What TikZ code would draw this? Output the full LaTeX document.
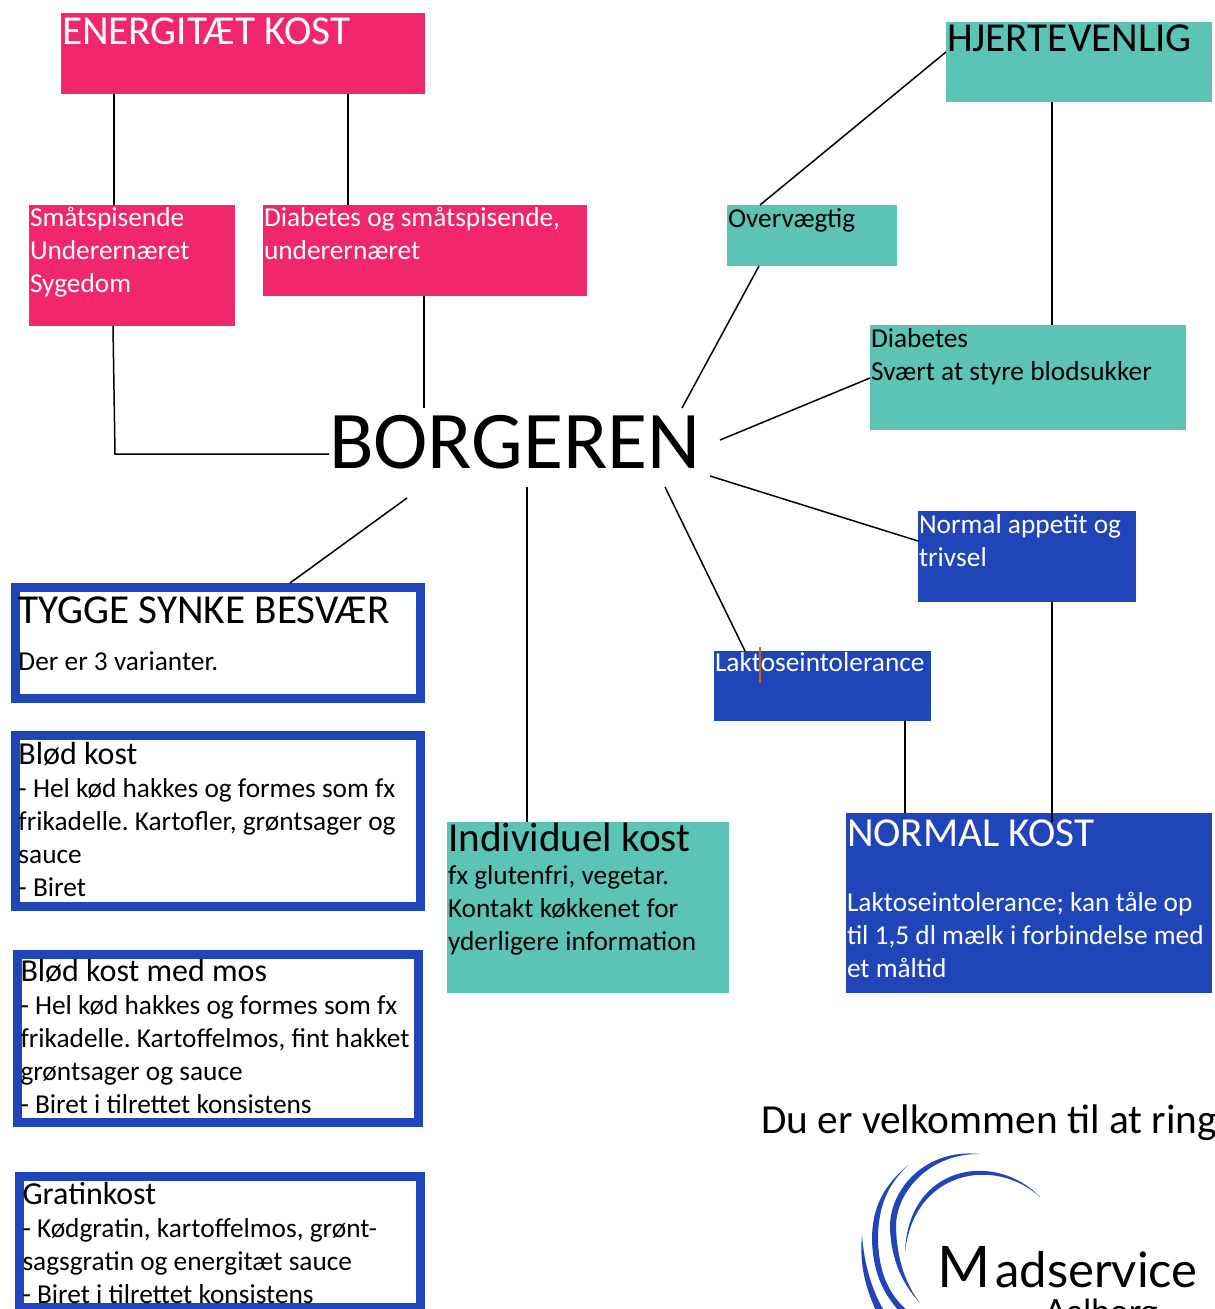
\documentclass[tikz,border=0pt]{standalone}
\usepackage{fontspec}
\setmainfont{Carlito}
\newfontfamily\logofont{Lato}
\usepackage{tikz}
\frenchspacing
\definecolor{pinkfill}{HTML}{F2276B}
\definecolor{tealfill}{HTML}{5BC4B4}
\definecolor{bluefill}{HTML}{1F45B8}
\newcommand{\px}{0.75pt}
\newcommand{\bodyfont}{\fontsize{20.5}{24.75}\selectfont}
\newcommand{\bigfont}{\fontsize{30.9}{24.75}\selectfont}
\newcommand{\midfont}{\fontsize{24}{24.75}\selectfont}
\tikzset{
  fillbox/.style n args={3}{anchor=north west, outer sep=0pt, inner xsep=1*\px, inner ysep=0pt, align=flush left,
    font=\bodyfont, text width=(#1-2)*\px, text height=#3*\px, text depth=(#2-#3)*\px},
  framebox/.style n args={3}{anchor=north west, draw=bluefill, fill=white, line width=9*\px, inner xsep=3*\px, inner ysep=0pt, align=flush left,
    font=\bodyfont, text width=(#1-15)*\px, text height=(#3-4.5)*\px, text depth=(#2-#3-4.5)*\px},
  pinkbox/.style={fill=pinkfill, text=white},
  tealbox/.style={fill=tealfill, text=black},
  bluebox/.style={fill=bluefill, text=white},
  link/.style={draw=black, line width=1.5*\px},
  logoarc/.style={fill=bluefill}
}
\begin{document}
\begin{tikzpicture}[x=0.75pt,y=-0.75pt]
\useasboundingbox (0,0) rectangle (1214,1309);
% boxes
\node[pinkbox, fillbox={364}{81}{32}] (energi) at (61,13) {\bigfont ENERGITÆT KOST};
\node[pinkbox, fillbox={206}{121}{21}] (smaa) at (29,205) {Småtspisende\\Underernæret\\Sygedom};
\node[pinkbox, fillbox={324}{91}{21}] (diabsmaa) at (263,205) {Diabetes og småtspisende,\\underernæret};
\node[tealbox, fillbox={266}{80}{30}] (hjerte) at (946,22) {\bigfont HJERTEVENLIG};
\node[tealbox, fillbox={170}{61}{22}] (overv) at (727,205) {Overvægtig};
\node[tealbox, fillbox={316}{105}{22}] (diab) at (870,325) {Diabetes\\Svært at styre blodsukker};
\node[bluebox, fillbox={218}{91}{22}] (appetit) at (918,511) {Normal appetit og\\trivsel};
\node[bluebox, fillbox={217}{70}{20}] (laktose) at (714,651) {Laktoseintolerance};
\node[bluebox, fillbox={366}{180}{33}] (normal) at (846,813) {\bigfont NORMAL KOST\\[24pt]\bodyfont Laktoseintolerance; kan tåle op\\til 1,5 dl mælk i forbindelse med\\et måltid};
\node[tealbox, fillbox={282}{171}{29}] (indiv) at (447,822) {\bigfont Individuel kost\\\bodyfont fx glutenfri, vegetar.\\Kontakt køkkenet for\\yderligere information};
\node[framebox={414}{120}{40}] (tygge) at (11,583) {\bigfont TYGGE SYNKE BESVÆR\\[11pt]\bodyfont Der er 3 varianter.};
\node[framebox={414}{180}{33}] (bloed) at (11,731) {\midfont Blød kost\\\bodyfont - Hel kød hakkes og formes som fx\\frikadelle. Kartofler, grøntsager og\\sauce\\- Biret};
\node[framebox={410}{177}{31}] (mos) at (13,950) {\midfont Blød kost med mos\\\bodyfont - Hel kød hakkes og formes som fx\\frikadelle. Kartoffelmos, fint hakket\\grøntsager og sauce\\- Biret i tilrettet konsistens};
\node[framebox={410}{140}{32}] (gratin) at (15,1172) {\midfont Gratinkost\\\bodyfont - Kødgratin, kartoffelmos, grønt-\\sagsgratin og energitæt sauce\\- Biret i tilrettet konsistens};
\node[anchor=north west, inner sep=0pt, outer sep=0pt, text height=60*\px, text depth=19*\px, font=\fontsize{61.5}{61.5}\selectfont] (borger) at (329,408) {BORGEREN};
\node[anchor=base west, inner sep=0pt, font=\fontsize{31}{32}\selectfont] (ring) at (761,1133) {Du er velkommen til at ring};
\node[anchor=base west, inner sep=0pt, font=\logofont\fontsize{43}{43}\selectfont] (logom) at (937,1287) {M};
\node[anchor=base west, inner sep=0pt, font=\logofont\fontsize{36.7}{36.7}\selectfont] (logotxt) at (995,1287) {adservice};
\node[anchor=base west, inner sep=0pt, font=\logofont\fontsize{25}{25}\selectfont] (logoby) at (1044,1323) {Aalborg};
% lines
\coordinate (borgerl) at (407,498);
\coordinate (borgerr) at (710,476);
\coordinate (borgerd) at (720,440);
\draw[link] (energi.south -| 114,0) -- (smaa.north -| 114,0);
\draw[link] (energi.south -| 348,0) -- (diabsmaa.north -| 348,0);
\draw[link] (diabsmaa.south -| 424,0) -- (borger.north -| 424,0);
\draw[link] (smaa.south -| 113,0) -- (115,454) -- (borger.west |- 0,454);
\draw[link] (borgerl) -- (tygge.north -| 290,0);
\draw[link] (borger.south -| 527,0) -- (indiv.north -| 527,0);
\draw[link] (borger.south -| 665,0) -- (laktose.north -| 745,0);
\draw[link] (borgerr) -- (appetit.west |- 0,541);
\draw[link] (borgerd) -- (diab.west |- 0,378);
\draw[link] (borger.north -| 682,0) -- (overv.south -| 759,0);
\draw[link] (overv.north -| 760,0) -- (hjerte.west |- 0,52);
\draw[link] (hjerte.south -| 1052,0) -- (diab.north -| 1052,0);
\draw[link] (appetit.south -| 1052,0) -- (normal.north -| 1052,0) -- (1052,822);
\draw[link] (laktose.south -| 905,0) -- (normal.north -| 905,0);
\draw[orange!80!black, line width=1.2*\px] (760,647) -- (760,683);
% logo
\fill[logoarc] (1040,1197) .. controls (995,1150) and (908,1165) .. (905,1252) .. controls (914,1170) and (995,1156) .. (1040,1197) -- cycle;
\fill[logoarc] (980,1154) .. controls (925,1148) and (889,1190) .. (890,1228) .. controls (891,1260) and (903,1285) .. (920,1303) .. controls (906,1285) and (897,1260) .. (896,1228) .. controls (895,1192) and (930,1153) .. (980,1154) -- cycle;
\fill[logoarc] (908,1165) .. controls (885,1185) and (872,1205) .. (872,1240) .. controls (873,1275) and (885,1297) .. (903,1315) -- (913,1315) .. controls (890,1298) and (879,1275) .. (878,1240) .. controls (878,1205) and (888,1185) .. (908,1165) -- cycle;
\fill[logoarc] (862,1235) .. controls (859,1265) and (866,1290) .. (878,1315) -- (887,1315) .. controls (873,1295) and (864,1265) .. (862,1235) -- cycle;
\end{tikzpicture}
\end{document}
